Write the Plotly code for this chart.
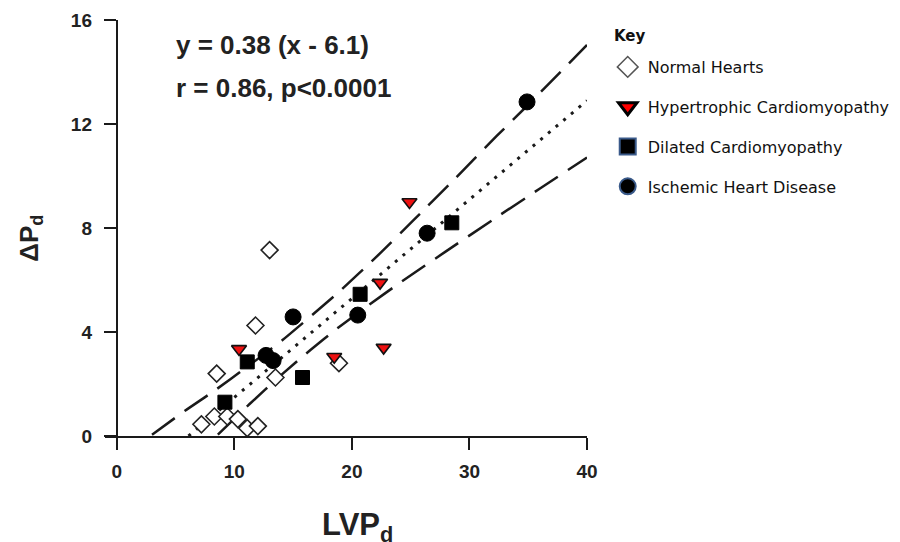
import plotly.graph_objects as go

# ---- data ----
normal_x = [7.2, 8.3, 9.4, 10.3, 11.1, 12.0, 8.5, 11.8, 13.0, 13.5, 18.9]
normal_y = [0.45, 0.75, 0.75, 0.65, 0.30, 0.38, 2.40, 4.25, 7.15, 2.25, 2.80]

hyper_x = [10.4, 18.5, 22.4, 22.7, 24.9]
hyper_y = [3.35, 3.05, 5.90, 3.40, 9.00]

dilated_x = [9.2, 11.1, 15.8, 20.7, 28.5]
dilated_y = [1.30, 2.85, 2.25, 5.45, 8.20]

ischemic_x = [12.7, 13.3, 15.0, 20.5, 26.4, 34.9]
ischemic_y = [3.10, 2.90, 4.58, 4.65, 7.80, 12.85]

fit_x = [6.1, 40.0]
fit_y = [0.0, 12.9]

upper_x = [3.0, 5.8, 8.3, 11.0, 14.1, 18.8, 22.5, 25.2, 28.5, 32.3, 35.0, 40.0]
upper_y = [0.05, 0.97, 1.74, 2.63, 3.69, 5.50, 7.07, 8.28, 9.77, 11.53, 12.74, 15.04]

lower_x = [8.6, 11.3, 14.0, 16.5, 18.8, 21.5, 24.3, 28.0, 32.3, 36.0, 40.0]
lower_y = [0.05, 1.23, 2.35, 3.32, 4.15, 5.06, 5.96, 7.10, 8.41, 9.52, 10.71]

x_ticks = [0, 10, 20, 30, 40]
y_ticks = [0, 4, 8, 12, 16]

legend_names = ["Normal Hearts", "Hypertrophic Cardiomyopathy",
                "Dilated Cardiomyopathy", "Ischemic Heart Disease"]

INK = "#1a1a1a"

fig = go.Figure()

# confidence bands and fit
band_line = dict(color=INK, width=2.5, dash="28px,12px", shape="spline", smoothing=0.5)
fig.add_trace(go.Scatter(x=upper_x, y=upper_y, mode="lines", showlegend=False,
                         line=band_line, hoverinfo="skip"))
fig.add_trace(go.Scatter(x=lower_x, y=lower_y, mode="lines", showlegend=False,
                         line=band_line, hoverinfo="skip"))
fig.add_trace(go.Scatter(x=fit_x, y=fit_y, mode="lines", showlegend=False,
                         line=dict(color=INK, width=3, dash="3px,7px"),
                         hoverinfo="skip"))

# data markers
fig.add_trace(go.Scatter(x=normal_x, y=normal_y, mode="markers", showlegend=False, cliponaxis=False,
                         marker=dict(symbol="diamond", size=13, color="white",
                                     line=dict(color="#222", width=1.6))))
fig.add_trace(go.Scatter(x=hyper_x, y=hyper_y, mode="markers", showlegend=False, cliponaxis=False,
                         marker=dict(symbol="triangle-down", size=13, color="#ee1111",
                                     line=dict(color="#111", width=1.6))))
fig.add_trace(go.Scatter(x=dilated_x, y=dilated_y, mode="markers", showlegend=False, cliponaxis=False,
                         marker=dict(symbol="square", size=14, color="#000",
                                     line=dict(color="#000", width=1))))
fig.add_trace(go.Scatter(x=ischemic_x, y=ischemic_y, mode="markers", showlegend=False, cliponaxis=False,
                         marker=dict(symbol="circle", size=16, color="#000",
                                     line=dict(color="#000", width=1))))

# legend-only entries
leg_styles = [
    dict(symbol="diamond", size=20, color="white", line=dict(color="#555", width=1.5)),
    dict(symbol="triangle-down", size=20, color="#ff0000", line=dict(color="#000", width=3)),
    dict(symbol="square", size=20, color="#000", line=dict(color="#3a5a8a", width=2)),
    dict(symbol="circle", size=20, color="#000", line=dict(color="#3a5a8a", width=2)),
]
for i, (nm, st) in enumerate(zip(legend_names, leg_styles)):
    fig.add_trace(go.Scatter(x=[None], y=[None], mode="markers", name=nm,
                             legendgroup=f"g{i}", marker=st))

tickfont = dict(family="Liberation Sans, Arial, sans-serif", size=19, color="#222", weight="bold")

PLOT_W = 900 - 105 - 313
PLOT_H = 542 - 20 - 106

fig.update_layout(
    width=900, height=542,
    margin=dict(l=105, r=313, t=20, b=106, autoexpand=False),
    paper_bgcolor="white", plot_bgcolor="white",
    xaxis=dict(range=[-1, 40], tickvals=x_ticks, ticks="outside", ticklen=12, tickwidth=2,
               tickcolor=INK, showline=True, linecolor=INK, linewidth=2, showgrid=False,
               zeroline=False, tickfont=tickfont, ticklabelstandoff=5),
    yaxis=dict(range=[0, 16], tickvals=y_ticks, ticks="outside", ticklen=12, tickwidth=2,
               tickcolor=INK, showline=True, linecolor=INK, linewidth=2, showgrid=False,
               zeroline=False, tickfont=tickfont, anchor="free", position=1/41,
               ticklabelstandoff=8),
    legend=dict(x=1.043, y=(436 - 50) / PLOT_H, xanchor="left", yanchor="top",
                font=dict(family="DejaVu Sans", size=16, color="#111"),
                tracegroupgap=16, bgcolor="rgba(0,0,0,0)"),
    showlegend=True,
    annotations=[
        dict(text="<b>Key</b>", x=(612 - 105) / PLOT_W, y=(436 - 36) / PLOT_H,
             xref="paper", yref="paper",
             xanchor="left", yanchor="middle", showarrow=False,
             font=dict(family="DejaVu Sans", size=15, color="#111")),
        dict(text="<b>y = 0.38 (x - 6.1)</b>", x=4.9, y=15.04, xref="x", yref="y",
             xanchor="left", yanchor="middle", showarrow=False,
             font=dict(family="Liberation Sans, Arial", size=26, color="#222")),
        dict(text="<b>r = 0.86, p<0.0001</b>", x=4.9, y=13.38, xref="x", yref="y",
             xanchor="left", yanchor="middle", showarrow=False,
             font=dict(family="Liberation Sans, Arial", size=26, color="#222")),
        dict(text="<b>LVP<sub>d</sub></b>", x=0.524, y=-0.165, xref="paper", yref="paper",
             xanchor="center", yanchor="top", showarrow=False,
             font=dict(family="Liberation Sans, Arial", size=31, color="#222")),
        dict(text="<b>ΔP<sub>d</sub></b>", x=-0.155, y=0.475, xref="paper", yref="paper",
             xanchor="center", yanchor="middle", showarrow=False, textangle=-90,
             font=dict(family="Liberation Sans, Arial", size=26, color="#222")),
    ],
)

fig.write_html("out.html")
